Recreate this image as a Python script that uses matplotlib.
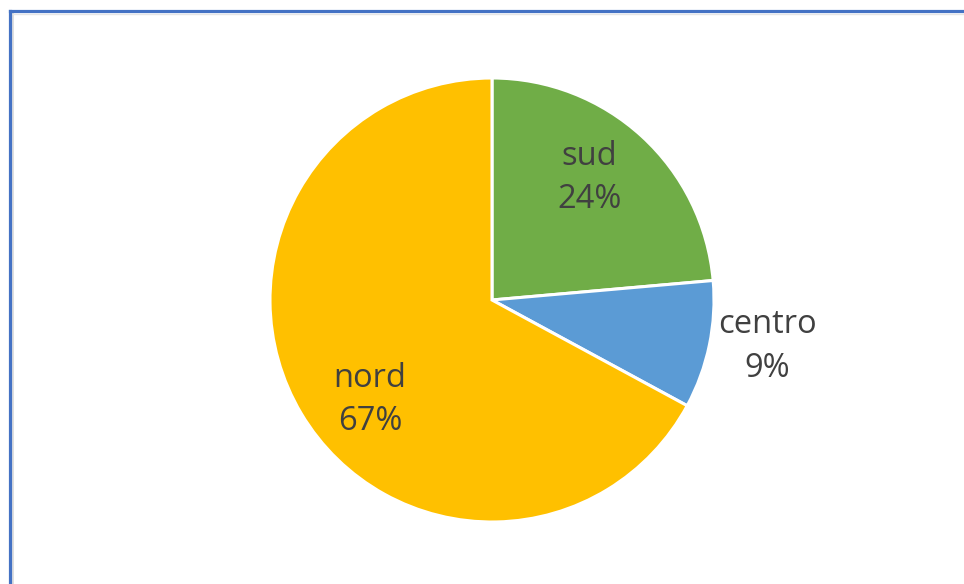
import matplotlib.pyplot as plt
from matplotlib.lines import Line2D

labels = ["sud", "centro", "nord"]
values = [23.6, 9.3, 67.1]
colors = ["#70AD47", "#5B9BD5", "#FFC000"]
# label anchor positions (in pie radius units)
label_pos = [(0.44, 0.55), (1.24, -0.21), (-0.55, -0.45)]

plt.rcParams['font.family'] = ['Open Sans', 'DejaVu Sans']

fig = plt.figure(figsize=(9.64, 5.84), dpi=100)
W, H = 964, 584

# chart border (right/bottom cut off in the original)
fig.add_artist(Line2D([12.5 / W, 12.5 / W], [0, 1 - 13 / H], transform=fig.transFigure,
                      color="#D9D9D9", lw=1.2))
fig.add_artist(Line2D([12 / W, 1], [1 - 13.5 / H, 1 - 13.5 / H], transform=fig.transFigure,
                      color="#E6E6E6", lw=1.0))
fig.add_artist(Line2D([9.5 / W, 9.5 / W], [0, 1 - 11 / H], transform=fig.transFigure,
                      color="#4472C4", lw=2.3, solid_capstyle='projecting'))
fig.add_artist(Line2D([9.5 / W, 1], [1 - 11 / H, 1 - 11 / H], transform=fig.transFigure,
                      color="#4472C4", lw=2.3, solid_capstyle='projecting'))

cx, cy, r = 492, 300, 222
ax = fig.add_axes([(cx - r) / W, (H - cy - r) / H, 2 * r / W, 2 * r / H])
ax.pie(values, colors=colors, startangle=90, counterclock=False,
       wedgeprops=dict(edgecolor="white", linewidth=2.2))
ax.set_xlim(-1, 1)
ax.set_ylim(-1, 1)
ax.set_aspect('equal')
ax.axis('off')

for lab, v, (x, y) in zip(labels, values, label_pos):
    ax.text(x, y, f"{lab}\n{round(v)}%", ha='center', va='center', fontsize=23.5,
            color="#404040", linespacing=1.42, clip_on=False)

fig.savefig("out.png", dpi=100)
